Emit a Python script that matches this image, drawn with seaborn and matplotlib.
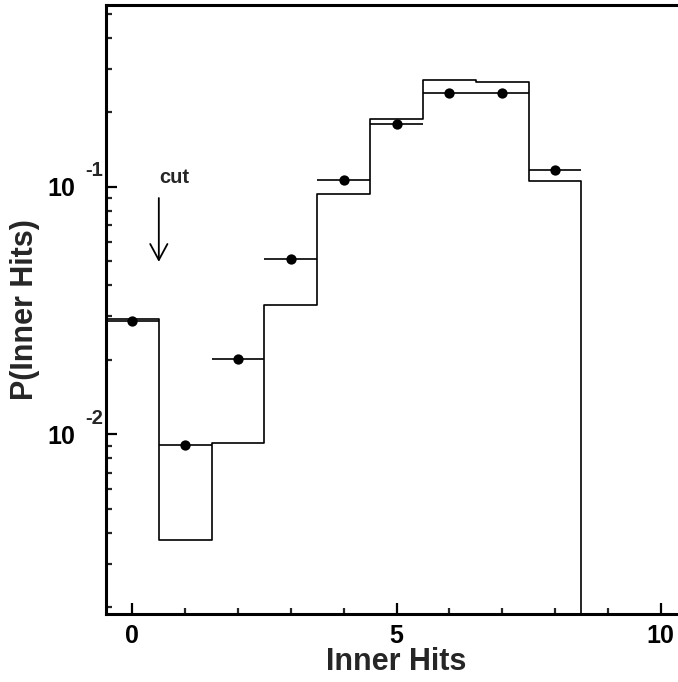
import numpy as np
import pandas as pd
import matplotlib
matplotlib.use("Agg")
import matplotlib.pyplot as plt
import matplotlib.transforms as mtransforms
import seaborn as sns
from matplotlib.ticker import FixedLocator, NullFormatter, FixedFormatter, LogLocator, MultipleLocator

# ---- data ----
bin_edges = [-0.5, 0.5, 1.5, 2.5, 3.5, 4.5, 5.5, 6.5, 7.5, 8.5, 9.5]
mc_prob = [0.0291, 0.00374, 0.00922, 0.0332, 0.0934, 0.188, 0.271, 0.264, 0.1055, 0.0]
data_hits = [0, 1, 2, 3, 4, 5, 6, 7, 8]
data_prob = [0.0286, 0.00906, 0.0201, 0.0510, 0.106, 0.180, 0.240, 0.240, 0.1168]
bin_half_width = 0.5
x_major_ticks = [0, 5, 10]
y_major_ticks = [0.01, 0.1]
y_tick_mantissa = ["10", "10"]
y_tick_exponent = ["-2", "-1"]
cut_position = 0.5
cut_arrow_from = 0.090
cut_arrow_to = 0.0497
cut_label = "cut"
x_label = "Inner Hits"
y_label = "P(Inner Hits)"

sns.set_theme(style="ticks")
plt.rcParams["font.family"] = ["Liberation Sans", "DejaVu Sans"]
plt.rcParams["font.weight"] = "bold"
plt.rcParams["axes.grid"] = False

fig = plt.figure(figsize=(6.78, 6.82), dpi=100)
ax = fig.add_axes([106 / 678, 68 / 682, 581 / 678, 609 / 682])

# MC histogram as a step line
step_df = pd.DataFrame({"edge": bin_edges, "prob": mc_prob + [mc_prob[-1]]})
sns.lineplot(data=step_df, x="edge", y="prob", drawstyle="steps-post",
             color="black", linewidth=1.2, estimator=None, sort=False, ax=ax)

# data points with horizontal bin-width bars
ax.errorbar(data_hits, data_prob, xerr=bin_half_width, fmt="none",
            ecolor="black", elinewidth=1.2, capsize=0, zorder=3)
pts_df = pd.DataFrame({"hits": data_hits, "prob": data_prob})
sns.scatterplot(data=pts_df, x="hits", y="prob", color="black", s=55,
                edgecolor="black", linewidth=0, zorder=4, ax=ax)

ax.set_yscale("log", nonpositive="clip")
ax.set_xlim(-0.5, 10.5)
ax.set_ylim(10 ** -2.726, 10 ** -0.266)

# cut arrow
ax.annotate("", xy=(cut_position, cut_arrow_to), xytext=(cut_position, cut_arrow_from),
            arrowprops=dict(arrowstyle="->,head_length=1.15,head_width=0.62",
                            mutation_scale=10, lw=1.3, color="black",
                            shrinkA=0, shrinkB=0))
ax.text(cut_position + 0.01, 0.0997, cut_label, fontsize=14.5, fontweight="bold",
        ha="left", va="bottom")

# ticks
ax.xaxis.set_major_locator(FixedLocator(x_major_ticks))
ax.xaxis.set_minor_locator(MultipleLocator(1))
ax.yaxis.set_major_locator(FixedLocator(y_major_ticks))
ax.yaxis.set_major_formatter(FixedFormatter(y_tick_mantissa))
ax.yaxis.set_minor_locator(LogLocator(base=10, subs=np.arange(2, 10)))
ax.yaxis.set_minor_formatter(NullFormatter())
ax.tick_params(axis="both", which="major", direction="in", length=8, width=1.6,
               labelsize=18, colors="black")
ax.tick_params(axis="both", which="minor", direction="in", length=4, width=1.6)
ax.tick_params(axis="x", which="major", pad=7)
ax.tick_params(axis="y", which="major", pad=22)
for lbl in ax.get_xticklabels() + ax.get_yticklabels():
    lbl.set_fontweight("bold")

# exponents of the y tick labels
blend = mtransforms.blended_transform_factory(ax.transAxes, ax.transData)
exp_tr = mtransforms.offset_copy(blend, fig=fig, x=-2.0, y=11.5, units="points")
for val, ex in zip(y_major_ticks, y_tick_exponent):
    ax.text(0, val, ex, transform=exp_tr, ha="right", va="center",
            fontsize=14.5, fontweight="bold", clip_on=False)

for side in ["left", "bottom", "top", "right"]:
    ax.spines[side].set_linewidth(2.2)
    ax.spines[side].set_color("black")

ax.set_xlabel(x_label, fontsize=22, fontweight="bold")
ax.set_ylabel(y_label, fontsize=22, fontweight="bold")
ax.xaxis.set_label_coords(0.5, -0.054)
ax.xaxis.label.set_va("top")
ax.yaxis.set_label_coords(-0.113, 0.5)

fig.savefig("out.png", dpi=100)
